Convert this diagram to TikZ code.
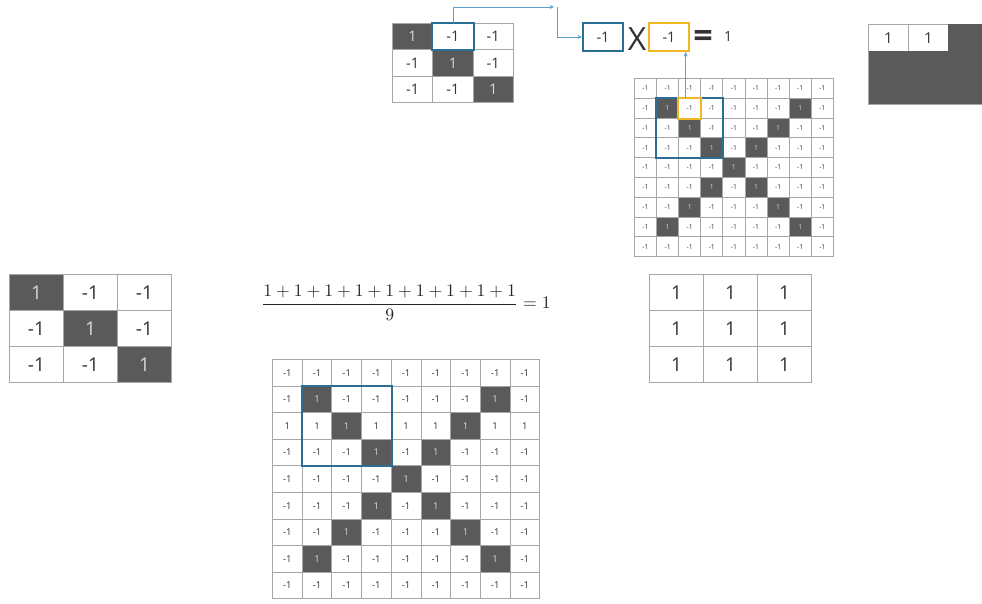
\documentclass[tikz,border=0pt]{standalone}
\usepackage{fontspec}
\setmainfont{Open Sans}
\usetikzlibrary{arrows.meta,calc}
\definecolor{darkcell}{HTML}{5A5A5A}
\definecolor{gridline}{HTML}{A6A6A6}
\definecolor{hlblue}{HTML}{2B6E93}
\definecolor{arrowblue}{HTML}{5AA0D0}
\definecolor{hlyellow}{HTML}{F2B823}
\definecolor{celltext}{HTML}{333333}
\definecolor{darktext}{HTML}{D8D8D8}
\tikzset{
  cell/.style={draw=gridline, line width=0.9pt, inner sep=0pt, fill=white, text=celltext, anchor=north west},
  darkc/.style={fill=darkcell, text=darktext},
  hlbox/.style={draw=hlblue, line width=2pt},
  ylbox/.style={draw=hlyellow, line width=2pt},
  conn/.style={draw=arrowblue, line width=0.8pt, -{Stealth[length=4.5pt,width=4pt]}},
  fbig/.style={font=\fontsize{19}{22}\selectfont},
  fmid/.style={font=\fontsize{14.5}{17}\selectfont},
  fsmall/.style={font=\fontsize{9.5}{11}\selectfont},
  ftiny/.style={font=\fontsize{6.8}{8}\selectfont},
}
\begin{document}
\begin{tikzpicture}[x=1pt,y=-1pt]
\useasboundingbox (0,0) rectangle (982,603);
\fill[white] (0,0) rectangle (982,603);

% top small 3x3 filter
\foreach \r in {0,1,2}{
  \foreach \c in {0,1,2}{
    \ifnum\r=\c
      \node[cell,darkc,fmid,minimum width=40.3pt,minimum height=26.3pt] (s-\r-\c) at ({392+\c*40.3},{23+\r*26.3}) {1};
    \else
      \node[cell,fmid,minimum width=40.3pt,minimum height=26.3pt] (s-\r-\c) at ({392+\c*40.3},{23+\r*26.3}) {-1};
    \fi
  }
}

% left 3x3 filter
\foreach \r in {0,1,2}{
  \foreach \c in {0,1,2}{
    \ifnum\r=\c
      \node[cell,darkc,fbig,minimum width=54pt,minimum height=36pt] (l-\r-\c) at ({9+\c*54},{274+\r*36}) {1};
    \else
      \node[cell,fbig,minimum width=54pt,minimum height=36pt] (l-\r-\c) at ({9+\c*54},{274+\r*36}) {-1};
    \fi
  }
}

% right 3x3 result
\foreach \r in {0,1,2}{
  \foreach \c in {0,1,2}{
    \node[cell,fbig,minimum width=54pt,minimum height=36pt] (r-\r-\c) at ({649+\c*54},{274+\r*36}) {1};
  }
}

% top-right 9x9 image
\foreach \r in {0,...,8}{
  \foreach \c in {0,...,8}{
    \pgfmathtruncatemacro{\isd}{(\r>0)&&(\r<8)&&((\c==\r)||(\c==8-\r))}
    \ifnum\isd=1
      \node[cell,darkc,ftiny,minimum width=22.1pt,minimum height=19.8pt] (t-\r-\c) at ({634+\c*22.1},{78+\r*19.8}) {1};
    \else
      \node[cell,ftiny,minimum width=22.1pt,minimum height=19.8pt] (t-\r-\c) at ({634+\c*22.1},{78+\r*19.8}) {-1};
    \fi
  }
}

% bottom 9x9 image
\foreach \r in {0,...,8}{
  \foreach \c in {0,...,8}{
    \pgfmathtruncatemacro{\isd}{(\r>0)&&(\r<8)&&((\c==\r)||(\c==8-\r))}
    \ifnum\isd=1
      \node[cell,darkc,fsmall,minimum width=29.7pt,minimum height=26.6pt] (b-\r-\c) at ({272+\c*29.7},{359+\r*26.6}) {1};
    \else
      \ifnum\r=2
        \node[cell,fsmall,minimum width=29.7pt,minimum height=26.6pt] (b-\r-\c) at ({272+\c*29.7},{359+\r*26.6}) {1};
      \else
        \node[cell,fsmall,minimum width=29.7pt,minimum height=26.6pt] (b-\r-\c) at ({272+\c*29.7},{359+\r*26.6}) {-1};
      \fi
    \fi
  }
}

% top-right partial result box
\node[cell,font=\fontsize{15}{17}\selectfont,minimum width=40pt,minimum height=26.7pt] (q-0-0) at (868,24) {1};
\node[cell,font=\fontsize{15}{17}\selectfont,minimum width=40pt,minimum height=26.7pt] (q-0-1) at (908,24) {1};
\node[cell,darkc,draw=darkcell,minimum width=34pt,minimum height=26.7pt] (q-0-2) at (948,24) {};
\node[cell,darkc,draw=darkcell,minimum width=114pt,minimum height=53.3pt] (q-rest) at (868,50.7) {};
\draw[gridline,line width=0.9pt] (q-0-0.north west) -- (q-rest.south west) -- (q-rest.south east);

% highlights
\draw[hlbox] (s-0-1.north west) rectangle (s-0-1.south east);
\draw[hlbox] (t-1-1.north west) rectangle (t-3-3.south east);
\draw[ylbox] (t-1-2.north west) rectangle (t-1-2.south east);
\draw[hlbox] (b-1-1.north west) rectangle (b-3-3.south east);

% equation
\node[hlbox,fmid,text=celltext,minimum width=40pt,minimum height=28pt,inner sep=0pt] (eqa) at (603,37) {-1};
\node[text=celltext,font=\fontsize{32}{32}\selectfont,inner sep=0pt] (ex) at (637,39) {X};
\node[ylbox,fmid,text=celltext,minimum width=40pt,minimum height=28pt,inner sep=0pt] (eqb) at (669,37) {-1};
\node[text=celltext,font=\fontsize{34}{34}\selectfont\bfseries,inner sep=0pt] (eqs) at (703,39) {=};
\node[text=celltext,font=\fontsize{14}{16}\selectfont,inner sep=0pt] (res) at (728,36) {1};

% connectors
\coordinate (c1) at (554,7);
\coordinate (c2) at (557,7);
\draw[conn] (s-0-1.north) |- (c1);
\draw[conn] (c2) |- (eqa.west);
\coordinate (ya) at ([xshift=-4pt]t-1-2.north);
\draw[conn] (ya) -- (ya |- eqb.south);

% fraction
\node[scale=1.77,transform shape,text=black!85] (frac) at (406,303) {$\displaystyle\frac{1+1+1+1+1+1+1+1+1}{9}=1$};
\end{tikzpicture}
\end{document}
